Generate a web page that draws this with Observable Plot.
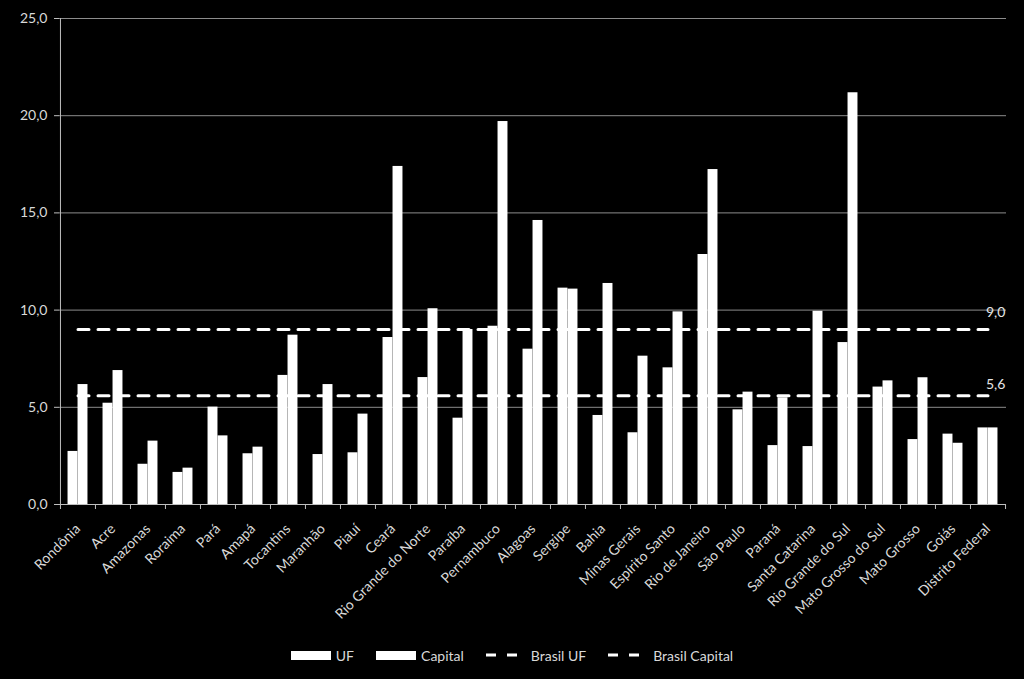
<!DOCTYPE html>
<html><head><meta charset="utf-8">
<script src="https://cdn.jsdelivr.net/npm/d3@7"></script>
<script src="https://cdn.jsdelivr.net/npm/@observablehq/plot@0.6"></script>
<style>
html,body{margin:0;padding:0;background:#000;width:1024px;height:679px;overflow:hidden;}
#chart{position:absolute;left:0;top:0;}
#legend{position:absolute;left:0;top:647px;width:1024px;height:16px;display:flex;justify-content:center;align-items:center;font-family:Lato, sans-serif;font-size:14px;color:#d9d9d9;}
.item{display:flex;align-items:center;margin:0 11px;}
.item svg{margin-right:5px;}
.item.dash svg{margin-right:13px;}
</style></head><body>
<div id="chart"></div>
<div id="legend"></div>
<script>
const states = ["Rondônia","Acre","Amazonas","Roraima","Pará","Amapá","Tocantins","Maranhão","Piauí","Ceará","Rio Grande do Norte","Paraíba","Pernambuco","Alagoas","Sergipe","Bahia","Minas Gerais","Espírito Santo","Rio de Janeiro","São Paulo","Paraná","Santa Catarina","Rio Grande do Sul","Mato Grosso do Sul","Mato Grosso","Goiás","Distrito Federal"];
const ufValues = [2.73,5.21,2.07,1.65,5.01,2.61,6.64,2.57,2.66,8.59,6.53,4.44,9.17,7.99,11.13,4.58,3.69,7.03,12.86,4.87,3.03,2.98,8.33,6.04,3.34,3.62,3.94];
const capitalValues = [6.17,6.89,3.26,1.87,3.53,2.95,8.71,6.17,4.65,17.39,10.07,9.0,19.70,14.61,11.08,11.37,7.63,9.91,17.23,5.78,5.49,9.94,21.18,6.36,6.52,3.15,3.94];
const brasilUF = 5.6;
const brasilCapital = 9.0;
const yTicks = [0,5,10,15,20,25];
const seriesNames = ["UF","Capital","Brasil UF","Brasil Capital"];

const fmt = d => d.toFixed(1).replace(".", ",");
const W = 1024, H = 630, ML = 59, MR = 18, MT = 18, MB = 126;
const bw = (W - ML - MR) / states.length;
const barW = 10;
const last = states[states.length - 1];
const ufData = states.map((s, i) => ({state: s, value: ufValues[i]}));
const capData = states.map((s, i) => ({state: s, value: capitalValues[i]}));
const tickDown = 5 / ((H - MT - MB) / 25);

const chart = Plot.plot({
  width: W, height: H,
  marginLeft: ML, marginRight: MR, marginTop: MT, marginBottom: MB,
  style: {background: "#000", color: "#d9d9d9", fontFamily: "Lato, sans-serif", fontSize: "14px"},
  x: {domain: states, padding: 0, label: null},
  y: {domain: [0, 25], label: null},
  marks: [
    Plot.gridY(yTicks, {stroke: "#8c8c8c", strokeOpacity: 1, strokeWidth: 1}),
    Plot.barY(ufData, {x: "state", y: "value", fill: "#fff", insetLeft: bw/2 - barW, insetRight: bw/2}),
    Plot.barY(capData, {x: "state", y: "value", fill: "#fff", insetLeft: bw/2, insetRight: bw/2 - barW}),
    Plot.lineY(states, {x: d => d, y: () => brasilCapital, stroke: "#fff", strokeWidth: 3, strokeDasharray: "11,9"}),
    Plot.lineY(states, {x: d => d, y: () => brasilUF, stroke: "#fff", strokeWidth: 3, strokeDasharray: "11,9"}),
    Plot.text([last], {x: d => d, y: () => brasilCapital, text: () => fmt(brasilCapital), textAnchor: "start", dx: -2, dy: -17, fill: "#e6e6e6", fontSize: 14}),
    Plot.text([last], {x: d => d, y: () => brasilUF, text: () => fmt(brasilUF), textAnchor: "start", dx: -2, dy: -11, fill: "#e6e6e6", fontSize: 14}),
    Plot.ruleY([0], {stroke: "#bfbfbf"}),
    Plot.ruleX([states[0]], {x: d => d, dx: -bw/2, y1: 0, y2: 25, stroke: "#bfbfbf"}),
    Plot.ruleX(states, {x: d => d, dx: -bw/2, y1: 0, y2: -tickDown, stroke: "#bfbfbf"}),
    Plot.ruleX([last], {x: d => d, dx: bw/2, y1: 0, y2: -tickDown, stroke: "#bfbfbf"}),
    Plot.axisY({ticks: yTicks, tickFormat: fmt, tickSize: 5, tickPadding: 7, stroke: "#bfbfbf", label: null, fontSize: 14}),
    Plot.axisX({tickRotate: -45, tickSize: 0, tickPadding: 22, label: null, fontSize: 14})
  ]
});
document.getElementById("chart").appendChild(chart);

const legend = document.getElementById("legend");
seriesNames.forEach((name, i) => {
  const item = document.createElement("div");
  const isDash = i >= 2;
  item.className = "item" + (isDash ? " dash" : "");
  const sw = isDash
    ? `<svg width="32" height="10"><line x1="0" y1="5" x2="32" y2="5" stroke="#fff" stroke-width="3" stroke-dasharray="10,11"/></svg>`
    : `<svg width="40" height="9"><rect x="0" y="0" width="40" height="9" fill="#fff"/></svg>`;
  item.innerHTML = sw + `<span>${name}</span>`;
  legend.appendChild(item);
});
</script>
</body></html>
